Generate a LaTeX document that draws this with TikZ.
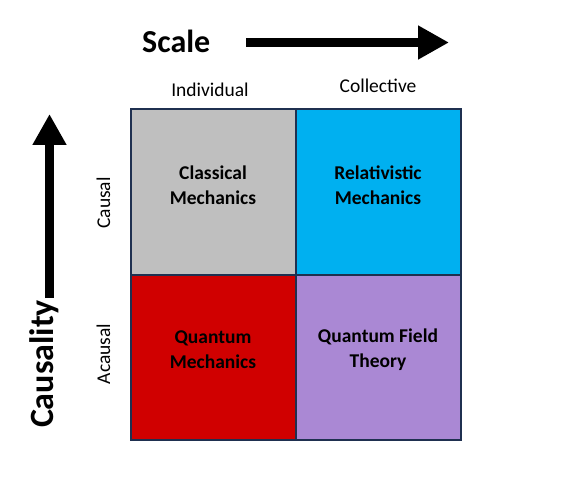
\documentclass[tikz,border=0pt]{standalone}
\usepackage{fontspec}
\setmainfont{Carlito}
\usetikzlibrary{arrows.meta}
\definecolor{cgray}{HTML}{BFBFBF}
\definecolor{cblue}{HTML}{00B0F0}
\definecolor{cred}{HTML}{D00000}
\definecolor{cpurple}{HTML}{AA88D4}
\definecolor{cborder}{HTML}{1F3050}
\tikzset{
  cell/.style={draw=cborder, line width=2pt},
  celltext/.style={font=\fontsize{19.5}{25}\selectfont\bfseries, align=center, inner sep=0pt},
  axislabel/.style={font=\fontsize{19.5}{24}\selectfont, inner sep=0pt},
  title/.style={font=\fontsize{32}{36}\selectfont\bfseries, inner sep=0pt},
  bigarrow/.style={line width=9pt, -{Triangle[length=31pt 0, width=32pt 0]}}
}
\begin{document}
\begin{tikzpicture}[x=1pt,y=-1pt]
\useasboundingbox (0,0) rectangle (570,492);
% cells
\fill[cgray] (130.5,109.5) rectangle (295.5,274.5);
\fill[cblue] (295.5,109.5) rectangle (460.5,274.5);
\fill[cred] (130.5,274.5) rectangle (295.5,439.5);
\fill[cpurple] (295.5,274.5) rectangle (460.5,439.5);
\draw[cell] (130.5,109.5) rectangle (460.5,439.5);
\draw[cell] (295.5,109.5) -- (295.5,439.5);
\draw[cell] (130.5,274.5) -- (460.5,274.5);
% cell texts
\node[celltext] (cm) at (213,185) {Classical\\Mechanics};
\node[celltext] (rm) at (378,185) {Relativistic\\Mechanics};
\node[celltext] (qm) at (213,350) {Quantum\\Mechanics};
\node[celltext] (qft) at (378,350) {Quantum Field\\Theory};
% axis labels
\node[axislabel, anchor=base] (ind) at (210,97) {Individual};
\node[axislabel, anchor=base] (col) at (378,93) {Collective};
\node[axislabel, rotate=90, anchor=base] (causal) at (110,203) {Causal};
\node[axislabel, rotate=90, anchor=base] (acausal) at (110,354) {Acausal};
% titles
\node[title, anchor=base west] (scale) at (142,53) {Scale};
\node[title, rotate=90, anchor=base, font=\fontsize{34}{38}\selectfont\bfseries] (causality) at (53,364) {Causality};
% arrows
\coordinate (hs) at (246,42.5);
\coordinate (he) at (449,42.5);
\draw[bigarrow] (hs) -- (he);
\coordinate (vs) at (49.5,298);
\coordinate (ve) at (49.5,114);
\draw[bigarrow] (vs) -- (ve);
\end{tikzpicture}
\end{document}
